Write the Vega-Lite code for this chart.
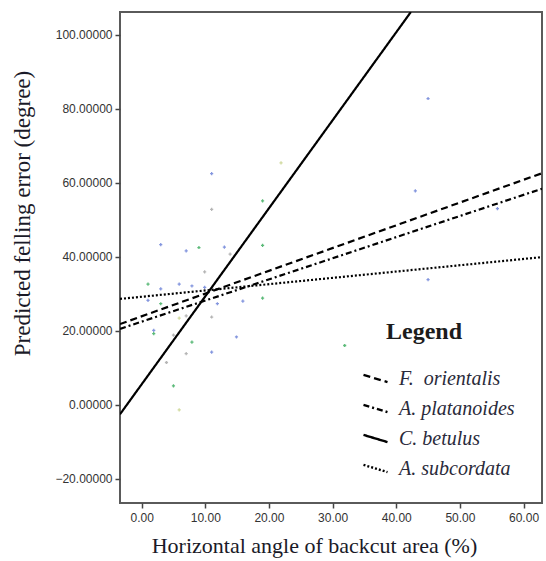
{
  "$schema": "https://vega.github.io/schema/vega-lite/v6.json",
  "width": 422,
  "height": 491,
  "autosize": "none",
  "padding": {"left": 120, "top": 12, "right": 4, "bottom": 58},
  "background": "white",
  "config": {
    "view": {"stroke": "#5a5a5a", "strokeWidth": 2},
    "axis": {
      "domain": false,
      "grid": false,
      "tickColor": "#444",
      "tickSize": 5,
      "tickWidth": 1.5,
      "labelFont": "Liberation Sans",
      "labelFontSize": 12,
      "labelColor": "#333",
      "titleFont": "Liberation Serif",
      "titleFontSize": 22,
      "titleFontWeight": "normal",
      "titleColor": "#1a1a28"
    }
  },
  "datasets": {
    "points": [
      {"x": 21.9, "y": 65.4, "g": "yellow"},
      {"x": 11.0, "y": 62.5, "g": "blue"},
      {"x": 11.0, "y": 52.8, "g": "gray"},
      {"x": 19.0, "y": 55.1, "g": "green"},
      {"x": 3.0, "y": 43.3, "g": "blue"},
      {"x": 7.0, "y": 41.6, "g": "blue"},
      {"x": 9.0, "y": 42.5, "g": "green"},
      {"x": 13.0, "y": 42.6, "g": "blue"},
      {"x": 13.9, "y": 40.7, "g": "gray"},
      {"x": 19.0, "y": 43.1, "g": "green"},
      {"x": 9.9, "y": 35.9, "g": "gray"},
      {"x": 1.0, "y": 32.6, "g": "green"},
      {"x": 5.9, "y": 32.6, "g": "blue"},
      {"x": 3.0, "y": 31.3, "g": "blue"},
      {"x": 7.9, "y": 32.1, "g": "blue"},
      {"x": 9.9, "y": 31.7, "g": "blue"},
      {"x": 1.0, "y": 28.2, "g": "blue"},
      {"x": 3.0, "y": 27.3, "g": "green"},
      {"x": 11.9, "y": 27.3, "g": "blue"},
      {"x": 15.9, "y": 28.0, "g": "blue"},
      {"x": 19.0, "y": 28.8, "g": "green"},
      {"x": 11.0, "y": 23.7, "g": "gray"},
      {"x": 5.9, "y": 23.4, "g": "yellow"},
      {"x": 7.0, "y": 24.0, "g": "gray"},
      {"x": 1.9, "y": 20.1, "g": "blue"},
      {"x": 1.9, "y": 19.2, "g": "green"},
      {"x": 14.9, "y": 18.3, "g": "blue"},
      {"x": 5.0, "y": 18.8, "g": "gray"},
      {"x": 7.9, "y": 16.9, "g": "green"},
      {"x": 7.0, "y": 13.8, "g": "gray"},
      {"x": 11.0, "y": 14.2, "g": "blue"},
      {"x": 3.9, "y": 11.4, "g": "gray"},
      {"x": 5.0, "y": 5.1, "g": "green"},
      {"x": 5.9, "y": -1.4, "g": "yellow"},
      {"x": 45.0, "y": 82.8, "g": "blue"},
      {"x": 43.0, "y": 57.8, "g": "blue"},
      {"x": 55.9, "y": 53.0, "g": "blue"},
      {"x": 45.0, "y": 33.8, "g": "blue"},
      {"x": 31.9, "y": 16.0, "g": "green"}
    ],
    "lines": [
      {"species": "F.\u00a0 orientalis", "x": -3.4, "y": 21.8},
      {"species": "F.\u00a0 orientalis", "x": 62.9, "y": 62.6},
      {"species": "A. platanoides", "x": -3.4, "y": 20.5},
      {"species": "A. platanoides", "x": 62.9, "y": 58.4},
      {"species": "C. betulus", "x": -3.4, "y": -2.6},
      {"species": "C. betulus", "x": 42.3, "y": 106.2},
      {"species": "A. subcordata", "x": -3.4, "y": 28.6},
      {"species": "A. subcordata", "x": 62.9, "y": 39.9}
    ]
  },
  "layer": [
    {
      "data": {"name": "points"},
      "mark": {"type": "point", "shape": "cross", "filled": true, "size": 10, "opacity": 0.85},
      "encoding": {
        "x": {
          "field": "x", "type": "quantitative",
          "scale": {"domain": [-3.4, 62.9], "nice": false, "zero": false},
          "axis": {"values": [0, 10, 20, 30, 40, 50, 60], "format": ".2f", "title": "Horizontal angle of backcut area (%)", "titlePadding": 12, "titleX": 194, "labelPadding": 4}
        },
        "y": {
          "field": "y", "type": "quantitative",
          "scale": {"domain": [-26.6, 106.2], "nice": false, "zero": false},
          "axis": {"values": [-20, 0, 20, 40, 60, 80, 100], "format": ".5f", "title": "Predicted felling error (degree)", "titleFontSize": 23, "titleX": -86, "titleY": 201, "labelPadding": 3}
        },
        "color": {
          "field": "g", "type": "nominal",
          "scale": {"domain": ["blue", "green", "gray", "yellow"], "range": ["#6f84d8", "#3fae62", "#a8a8a8", "#c9d48e"]},
          "legend": null
        }
      }
    },
    {
      "data": {"name": "lines"},
      "mark": {"type": "line", "color": "black", "strokeWidth": 2.2, "clip": true},
      "encoding": {
        "x": {"field": "x", "type": "quantitative"},
        "y": {"field": "y", "type": "quantitative"},
        "detail": {"field": "species"},
        "strokeDash": {
          "field": "species", "type": "nominal",
          "scale": {
            "domain": ["F.\u00a0 orientalis", "A. platanoides", "C. betulus", "A. subcordata"],
            "range": [[7, 4], [6, 3, 2, 3], [1, 0], [2, 2]]
          },
          "legend": {
            "orient": "none",
            "legendX": 242,
            "legendY": 308,
            "title": "Legend",
            "titleFont": "Times New Roman, Liberation Serif, serif",
            "titleFontSize": 24,
            "titleFontWeight": "bold",
            "titleColor": "#1c1c1c",
            "titleAnchor": "middle",
            "titlePadding": 21,
            "labelFont": "Times New Roman, Liberation Serif, serif",
            "labelFontStyle": "italic",
            "labelFontSize": 20,
            "labelColor": "#2a2a3a",
            "labelOffset": 10,
            "labelLimit": 300,
            "symbolType": "M-1,-0.3L1,0.3",
            "symbolSize": 576,
            "symbolStrokeWidth": 2.4,
            "symbolStrokeColor": "black",
            "symbolFillColor": "transparent",
            "rowPadding": 6,
            "encode": {
              "symbols": {"update": {"shape": {"value": "M-1,-0.3L1,0.3"}}},
              "title": {"update": {"dx": {"value": -14}}}
            }
          }
        }
      }
    }
  ]
}
